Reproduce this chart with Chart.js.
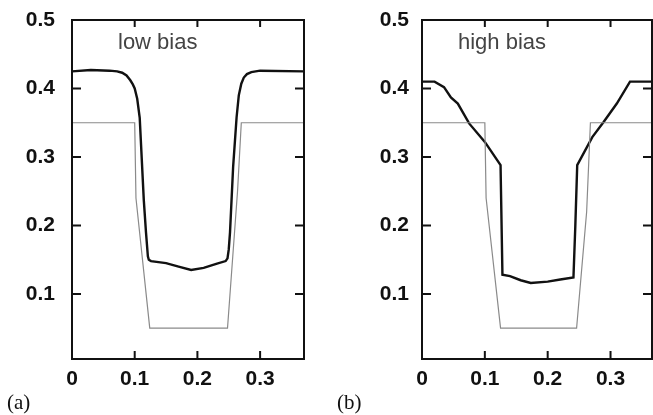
<!DOCTYPE html>
<html>
<head>
<meta charset="utf-8">
<script src="https://cdn.jsdelivr.net/npm/chart.js@4/dist/chart.umd.min.js"></script>
<style>
  html, body { margin: 0; padding: 0; background: #fff; }
  #wrap { position: relative; width: 653px; height: 415px; overflow: hidden; }
  canvas { position: absolute; top: 0; }
  .note { position: absolute; font-family: "Liberation Sans", Arial, sans-serif; font-size: 22px; color: #444; white-space: nowrap; }
  .tag { position: absolute; font-family: "Liberation Serif", "Times New Roman", serif; font-size: 21px; color: #111; }
</style>
</head>
<body>
<div id="wrap">
  <canvas id="chartA" width="320" height="415" style="left:0"></canvas>
  <canvas id="chartB" width="323" height="415" style="left:330px"></canvas>
  <div class="note" style="left:118px; top:29px">low bias</div>
  <div class="note" style="left:458px; top:29px">high bias</div>
  <div class="tag" style="left:7px; top:390px">(a)</div>
  <div class="tag" style="left:337px; top:390px">(b)</div>
</div>
<script>
// tick labels
const xTicks = [0, 0.1, 0.2, 0.3];
const yTicks = [0.1, 0.2, 0.3, 0.4, 0.5];

// true profile (thin grey), panel a
const trueAX = [0, 0.1, 0.102, 0.124, 0.248, 0.264, 0.27, 0.37];
const trueAY = [0.35, 0.35, 0.24, 0.05, 0.05, 0.25, 0.35, 0.35];

// reconstruction, low bias
const lowX = [0, 0.03, 0.06, 0.072, 0.08, 0.087, 0.093, 0.097, 0.1, 0.104, 0.108, 0.1145, 0.118, 0.121, 0.1225, 0.126,
              0.15, 0.17, 0.19, 0.21, 0.23, 0.245, 0.248, 0.25, 0.252, 0.257, 0.2625, 0.266, 0.27, 0.274, 0.279, 0.286, 0.3, 0.37];
const lowY = [0.425, 0.427, 0.426, 0.425, 0.423, 0.419, 0.412, 0.406, 0.4, 0.385, 0.357, 0.237, 0.19, 0.155, 0.15, 0.148,
              0.145, 0.14, 0.135, 0.138, 0.144, 0.148, 0.152, 0.165, 0.19, 0.286, 0.358, 0.39, 0.407, 0.416, 0.421, 0.424, 0.426, 0.425];

// true profile (thin grey), panel b
const trueBX = [0, 0.1, 0.102, 0.125, 0.246, 0.262, 0.268, 0.37];
const trueBY = [0.35, 0.35, 0.24, 0.05, 0.05, 0.22, 0.35, 0.35];

// reconstruction, high bias
const highX = [0, 0.02, 0.035, 0.046, 0.057, 0.075, 0.1, 0.125, 0.128, 0.14, 0.157, 0.173, 0.2, 0.22, 0.241, 0.244, 0.247, 0.271, 0.289, 0.31, 0.331, 0.37];
const highY = [0.41, 0.41, 0.402, 0.387, 0.378, 0.349, 0.322, 0.288, 0.128, 0.126, 0.12, 0.116, 0.118, 0.121, 0.124, 0.2, 0.288, 0.329, 0.351, 0.378, 0.41, 0.41];

const toPoints = (xs, ys) => xs.map((x, i) => ({ x: x, y: ys[i] }));

const tickFont = { family: '"Liberation Sans", Arial, sans-serif', size: 21, weight: 'bold' };

// frame with inward ticks on all four sides
const framePlugin = {
    id: 'frame',
    afterDatasetsDraw(chart) {
        const { ctx, chartArea: a, scales: { x, y } } = chart;
        ctx.save();
        ctx.strokeStyle = '#111';
        ctx.lineWidth = 2;
        ctx.strokeRect(a.left, a.top, a.right - a.left, a.bottom - a.top);
        ctx.beginPath();
        x.ticks.forEach(t => {
            const px = x.getPixelForValue(t.value);
            if (px <= a.left + 2 || px >= a.right - 2) return;
            ctx.moveTo(px, a.bottom);
            ctx.lineTo(px, a.bottom - 8);
            ctx.moveTo(px, a.top);
            ctx.lineTo(px, a.top + 7);
        });
        y.ticks.forEach(t => {
            const py = y.getPixelForValue(t.value);
            if (py <= a.top + 2 || py >= a.bottom - 2) return;
            ctx.moveTo(a.left, py);
            ctx.lineTo(a.left + 9, py);
            ctx.moveTo(a.right, py);
            ctx.lineTo(a.right - 9, py);
        });
        ctx.stroke();
        ctx.restore();
    }
};

function makePanel(id, trueX, trueY, recX, recY, xMax, yWidth, labelPad, rightPad) {
    const ctx = document.getElementById(id).getContext('2d');
    return new Chart(ctx, {
        type: 'line',
        data: {
            datasets: [
                {
                    data: toPoints(trueX, trueY),
                    borderColor: '#8a8a8a',
                    borderWidth: 1.2,
                    pointRadius: 0,
                    tension: 0
                },
                {
                    data: toPoints(recX, recY),
                    borderColor: '#111',
                    borderWidth: 2.4,
                    pointRadius: 0,
                    tension: 0
                }
            ]
        },
        options: {
            responsive: false,
            animation: false,
            devicePixelRatio: 1,
            layout: { padding: { top: 20, right: rightPad, bottom: 0, left: 0 } },
            plugins: {
                legend: { display: false },
                tooltip: { enabled: false }
            },
            scales: {
                x: {
                    type: 'linear',
                    min: 0,
                    max: xMax,
                    grid: { display: false, drawTicks: false },
                    border: { display: false },
                    afterBuildTicks: s => { s.ticks = xTicks.map(v => ({ value: v })); },
                    afterFit: s => { s.height = 56; },
                    ticks: {
                        font: tickFont,
                        color: '#111',
                        padding: 8,
                        maxRotation: 0,
                        callback: v => String(v)
                    }
                },
                y: {
                    min: 0.005,
                    max: 0.5,
                    grid: { display: false, drawTicks: false },
                    border: { display: false },
                    afterBuildTicks: s => { s.ticks = yTicks.map(v => ({ value: v })); },
                    afterFit: s => {
                        s.width = yWidth;
                        s.paddingTop = 0;
                        s.paddingBottom = 0;
                    },
                    ticks: {
                        font: tickFont,
                        color: '#111',
                        padding: labelPad,
                        callback: v => v.toFixed(1)
                    }
                }
            }
        },
        plugins: [framePlugin]
    });
}

makePanel('chartA', trueAX, trueAY, lowX, lowY, 0.37, 72, 17, 16);
makePanel('chartB', trueBX, trueBY, highX, highY, 0.366, 92, 13, 1);
</script>
</body>
</html>
